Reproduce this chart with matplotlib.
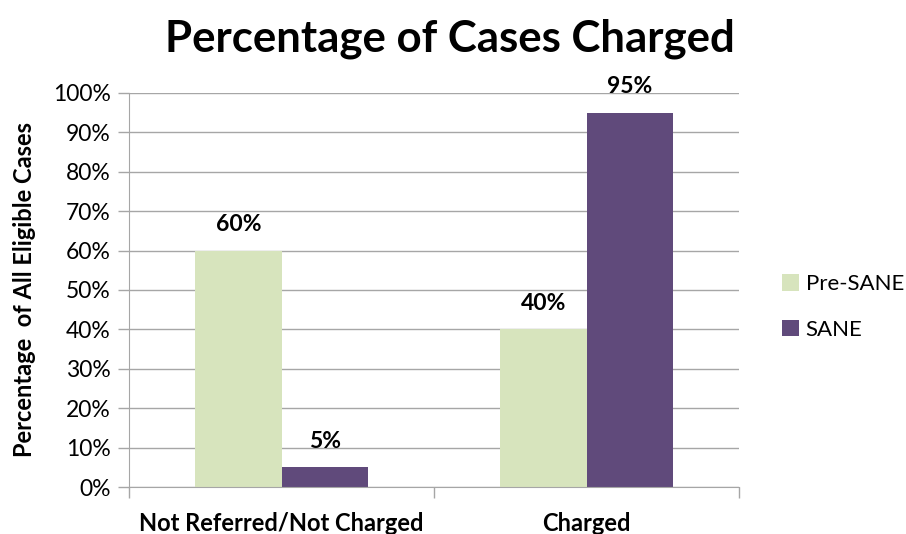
import numpy as np
import matplotlib.pyplot as plt
from matplotlib.ticker import FixedLocator, PercentFormatter

# Data
categories = ['Not Referred/Not Charged', 'Charged']
pre_sane = [60, 40]
sane = [5, 95]
series_names = ['Pre-SANE', 'SANE']

green = '#d7e4bd'
purple = '#604a7b'
gray = '#a6a6a6'

plt.rcParams['font.family'] = ['Lato', 'DejaVu Sans']

fig = plt.figure(figsize=(9.06, 5.34), dpi=100)
ax = fig.add_axes([0.1424, 0.088, 0.6733, 0.738])

x = np.arange(len(categories))
w = 0.283
b1 = ax.bar(x - w / 2, pre_sane, w, color=green, label=series_names[0])
b2 = ax.bar(x + w / 2, sane, w, color=purple, label=series_names[1])

# data labels
for bars, vals in ((b1, pre_sane), (b2, sane)):
    for r, v in zip(bars, vals):
        ax.text(r.get_x() + r.get_width() / 2, v + 4, '%d%%' % v,
                ha='center', va='bottom', fontsize=16.5, fontweight='bold')

ax.set_xlim(-0.5, 1.5)
ax.set_ylim(0, 100)
ax.set_yticks(np.arange(0, 101, 10))
ax.yaxis.set_major_formatter(PercentFormatter(decimals=0))
ax.grid(axis='y', color=gray, linewidth=1)
ax.set_axisbelow(True)

ax.set_xticks(x)
ax.set_xticklabels(categories, fontsize=17, fontweight='bold')
ax.tick_params(axis='x', which='major', length=0, pad=18)
ax.xaxis.set_minor_locator(FixedLocator([-0.5, 0.5, 1.5]))
ax.tick_params(axis='x', which='minor', length=8, color=gray, width=1)
ax.tick_params(axis='y', length=8, color=gray, width=1, labelsize=16.5, pad=5)

for s in ('top', 'right'):
    ax.spines[s].set_visible(False)
for s in ('left', 'bottom'):
    ax.spines[s].set_color(gray)

ax.set_ylabel('Percentage  of All Eligible Cases', fontsize=17, fontweight='bold', labelpad=12)
fig.suptitle('Percentage of Cases Charged', fontsize=31.5, fontweight='bold', x=0.497, y=0.965)

ax.legend(loc='center left', bbox_to_anchor=(1.049, 0.457), frameon=False, fontsize=16,
          handlelength=0.75, handleheight=0.75, handletextpad=0.3, labelspacing=1.15,
          borderaxespad=0.2)

fig.savefig('out.png', dpi=100)
